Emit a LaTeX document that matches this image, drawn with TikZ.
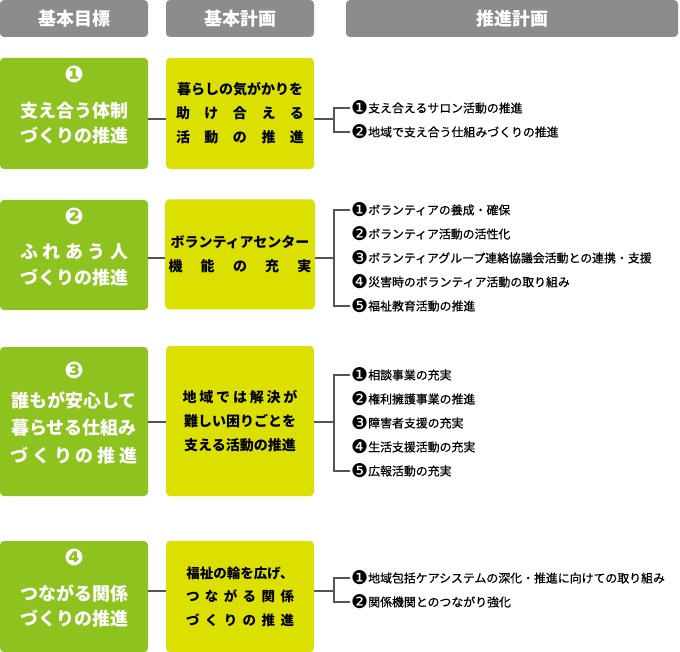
\documentclass[tikz,border=0pt]{standalone}
\usepackage{fontspec}
\setmainfont{Noto Sans CJK JP}
\newfontfamily\itemfont{Noto Sans CJK JP}[FakeBold=0.6]
\newfontfamily\dingfont{DejaVu Sans}
\usetikzlibrary{positioning}

\definecolor{hdrgray}{HTML}{8C8C8C}
\definecolor{goalgreen}{HTML}{8DC21F}
\definecolor{planyellow}{HTML}{DCE000}
\definecolor{linegray}{HTML}{555555}

% circled numbers
\newcommand{\gnum}[1]{\smash{{\dingfont\fontsize{23}{23}\selectfont #1}}}
\newcommand{\dnum}[1]{\smash{\raisebox{-2.2pt}{\dingfont\fontsize{19}{19}\selectfont #1}}}

\begin{document}
\begin{tikzpicture}[x=1pt,y=-1pt,
    hdr/.style={fill=hdrgray, rounded corners=4pt, minimum height=37pt, text=white, font=\fontsize{18}{20}\selectfont\bfseries},
    goal/.style={fill=goalgreen, rounded corners=4pt, minimum width=148pt, text=white, align=center, font=\fontsize{18}{25.5}\selectfont\bfseries},
    plan/.style={fill=planyellow, rounded corners=4pt, minimum width=148pt, align=center, font=\fontsize{14}{24}\selectfont\bfseries},
    item/.style={anchor=west, inner sep=1pt, font=\itemfont\fontsize{11.9}{15}\selectfont},
    link/.style={draw=linegray, line width=1.2pt}]
    \useasboundingbox (0,0) rectangle (680,652);

    % Headers
    \node[hdr, minimum width=148pt] (h1) at (74,18.5) {基本目標};
    \node[hdr, minimum width=148pt] (h2) at (240,18.5) {基本計画};
    \node[hdr, minimum width=332pt] (h3) at (512,18.5) {推進計画};

    % Basic goals
    \node[goal, minimum height=111pt] (g1) at (74,113.5) {\gnum{❶}\\[9pt]支え合う体制\\づくりの推進};
    \node[goal, minimum height=110pt] (g2) at (74,255) {\gnum{❷}\\[9pt]\makebox[108pt][s]{ふ れ あ う 人}\\づくりの推進};
    \node[goal, minimum height=149pt] (g3) at (74,421.5) {\gnum{❸}\\[3pt]誰もが安心して\\[2pt]暮らせる仕組み\\[2pt]\makebox[127pt][s]{づ く り の 推 進}};
    \node[goal, minimum height=111pt] (g4) at (74,596.5) {\gnum{❹}\\[9pt]つながる関係\\づくりの推進};

    % Basic plans
    \node[plan, minimum height=111pt] (p1) at (240,113.5) {暮らしの気がかりを\\\makebox[128pt][s]{助 け 合 え る}\\\makebox[128pt][s]{活 動 の 推 進}};
    \node[plan, minimum height=110pt] (p2) at (240,254.5) {ボランティアセンター\\\makebox[143pt][s]{機 能 の 充 実}};
    \node[plan, minimum height=150pt] (p3) at (240,421) {\makebox[115pt][s]{地 域 で は 解 決 が}\\難しい困りごとを\\支える活動の推進};
    \node[plan, minimum height=111pt, font=\fontsize{13.5}{23.5}\selectfont\bfseries] (p4) at (240,596.5) {福祉の輪を広げ、\\\makebox[108pt][s]{つ な が る 関 係}\\\makebox[108pt][s]{づ く り の 推 進}};

    % Promotion plans
    \foreach \t [count=\i] in {\dnum{❶}支え合えるサロン活動の推進, \dnum{❷}地域で支え合う仕組みづくりの推進}
        \node[item] (r1i\i) at (350,108+24*\i-24) {\t};
    \foreach \t [count=\i] in {\dnum{❶}ボランティアの養成・確保, \dnum{❷}ボランティア活動の活性化, \dnum{❸}ボランティアグループ連絡協議会活動との連携・支援, \dnum{❹}災害時のボランティア活動の取り組み, \dnum{❺}福祉教育活動の推進}
        \node[item] (r2i\i) at (350,210+24*\i-24) {\t};
    \foreach \t [count=\i] in {\dnum{❶}相談事業の充実, \dnum{❷}権利擁護事業の推進, \dnum{❸}障害者支援の充実, \dnum{❹}生活支援活動の充実, \dnum{❺}広報活動の充実}
        \node[item] (r3i\i) at (350,375+24*\i-24) {\t};
    \foreach \t [count=\i] in {\dnum{❶}地域包括ケアシステムの深化・推進に向けての取り組み, \dnum{❷}関係機関とのつながり強化}
        \node[item] (r4i\i) at (350,578+24*\i-24) {\t};

    % Connectors
    \coordinate (b1) at (334,119);
    \coordinate (b2) at (334,258);
    \coordinate (b3) at (334,422);
    \coordinate (b4) at (334,591);

    \draw[link] (g1.east |- b1) -- (p1.west |- b1);
    \draw[link] (p1.east |- b1) -- (b1);
    \draw[link] (r1i1.west) -| (b1) |- (r1i2.west);

    \draw[link] (g2.east |- b2) -- (p2.west |- b2);
    \draw[link] (p2.east |- b2) -- (b2);
    \draw[link] (r2i1.west) -| (b2) |- (r2i5.west);

    \draw[link] (g3.east |- b3) -- (p3.west |- b3);
    \draw[link] (p3.east |- b3) -- (b3);
    \draw[link] (r3i1.west) -| (b3) |- (r3i5.west);

    \draw[link] (g4.east |- b4) -- (p4.west |- b4);
    \draw[link] (p4.east |- b4) -- (b4);
    \draw[link] (r4i1.west) -| (b4) |- (r4i2.west);
\end{tikzpicture}
\end{document}
